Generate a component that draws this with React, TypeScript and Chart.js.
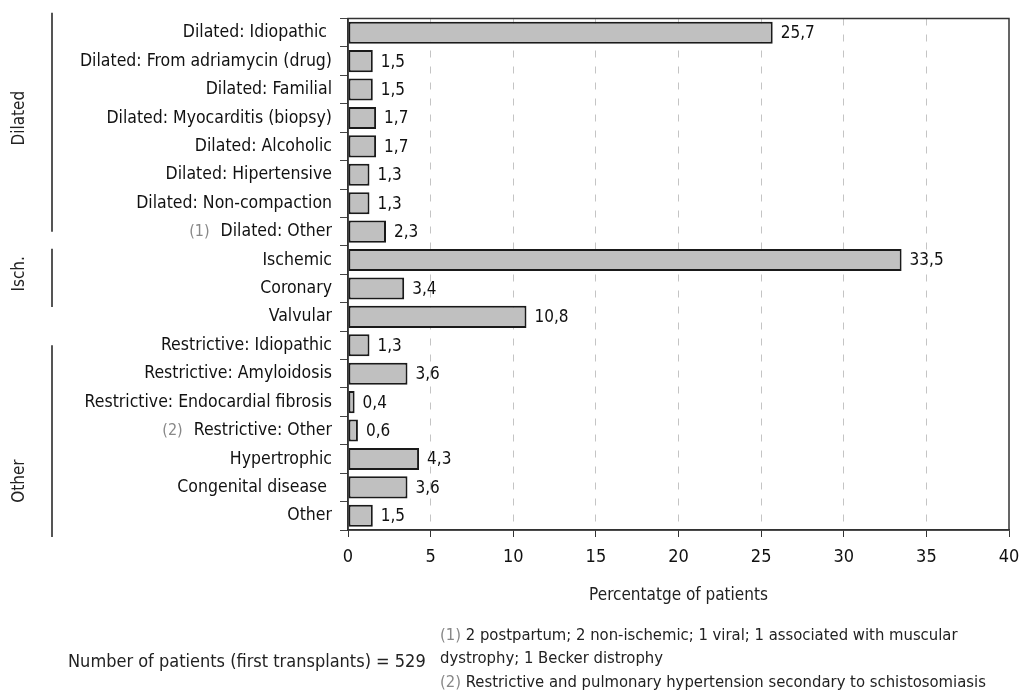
import { useEffect, useRef } from 'react'
import { Chart, registerables, Plugin } from 'chart.js'

Chart.register(...registerables)

const FONT = '"Liberation Sans Narrow", "Arial Narrow", "DejaVu Sans Condensed", sans-serif'

const categories = [
  'Dilated: Idiopathic ',
  'Dilated: From adriamycin (drug)',
  'Dilated: Familial',
  'Dilated: Myocarditis (biopsy)',
  'Dilated: Alcoholic',
  'Dilated: Hipertensive',
  'Dilated: Non-compaction',
  'Dilated: Other',
  'Ischemic',
  'Coronary',
  'Valvular',
  'Restrictive: Idiopathic',
  'Restrictive: Amyloidosis',
  'Restrictive: Endocardial fibrosis',
  'Restrictive: Other',
  'Hypertrophic',
  'Congenital disease ',
  'Other',
]

const percentages = [25.7, 1.5, 1.5, 1.7, 1.7, 1.3, 1.3, 2.3, 33.5, 3.4, 10.8, 1.3, 3.6, 0.4, 0.6, 4.3, 3.6, 1.5]

const xTicks = [0, 5, 10, 15, 20, 25, 30, 35, 40]

const groups = [
  { name: 'Dilated', first: 0, last: 7 },
  { name: 'Isch.', first: 8, last: 9 },
  { name: 'Other', first: 11, last: 17 },
]

const footnoteMarks = [
  { index: 7, mark: '(1)' },
  { index: 14, mark: '(2)' },
]

const footnotes = [
  '2 postpartum; 2 non-ischemic; 1 viral; 1 associated with muscular',
  'dystrophy; 1 Becker distrophy',
  'Restrictive and pulmonary hypertension secondary to schistosomiasis',
]

const patientsNote = 'Number of patients (first transplants) = 529'

const fmt = (v: number) => v.toFixed(1).replace('.', ',')

const decorations: Plugin<'bar'> = {
  id: 'decorations',
  afterDatasetsDraw(chart) {
    const { ctx, chartArea } = chart
    const meta = chart.getDatasetMeta(0)
    ctx.save()
    // value labels
    ctx.font = `17px ${FONT}`
    ctx.fillStyle = '#111'
    ctx.textAlign = 'left'
    ctx.textBaseline = 'middle'
    meta.data.forEach((el: any, i) => {
      ctx.fillText(fmt(percentages[i]), el.x + 8, el.y + 1)
    })
    // frame
    ctx.strokeStyle = '#333'
    ctx.lineWidth = 1.5
    ctx.strokeRect(chartArea.left, chartArea.top, chartArea.right - chartArea.left, chartArea.bottom - chartArea.top)
    ctx.restore()
  },
  afterDraw(chart) {
    const { ctx } = chart
    const y = chart.scales.y
    const step = y.getPixelForValue(1) - y.getPixelForValue(0)
    ctx.save()
    // group brackets
    groups.forEach((g, gi) => {
      let top = y.getPixelForValue(g.first) - step * 0.7
      let bottom = y.getPixelForValue(g.last)
      if (gi === 1) {
        top = y.getPixelForValue(g.first) - step * 0.4
        bottom = y.getPixelForValue(g.last) + step * 0.65
      }
      if (gi === 2) {
        top = y.getPixelForValue(g.first)
        bottom = y.getPixelForValue(g.last) + step * 0.75
      }
      ctx.strokeStyle = '#555'
      ctx.lineWidth = 2
      ctx.beginPath()
      ctx.moveTo(52, top)
      ctx.lineTo(52, bottom)
      ctx.stroke()
      const cy = gi === 2 ? bottom - 56 : (top + bottom) / 2 - 4
      ctx.save()
      ctx.translate(20, cy)
      ctx.rotate(-Math.PI / 2)
      ctx.font = `17px ${FONT}`
      ctx.fillStyle = '#222'
      ctx.textAlign = 'center'
      ctx.textBaseline = 'middle'
      ctx.fillText(g.name, 0, 0)
      ctx.restore()
    })
    // footnote markers next to labels
    ctx.textAlign = 'right'
    ctx.textBaseline = 'middle'
    footnoteMarks.forEach((f) => {
      ctx.font = `17.5px ${FONT}`
      const w = ctx.measureText(categories[f.index]).width
      ctx.font = `16px ${FONT}`
      ctx.fillStyle = '#888'
      ctx.fillText(f.mark, 330 - w - 9, y.getPixelForValue(f.index))
    })
    // bottom notes
    ctx.textAlign = 'left'
    ctx.font = `16.5px ${FONT}`
    ctx.fillStyle = '#888'
    ctx.fillText('(1)', 440, 636)
    ctx.fillText('(2)', 440, 683)
    const m = ctx.measureText('(1) ').width
    ctx.fillStyle = '#222'
    ctx.fillText(footnotes[0], 440 + m, 636)
    ctx.fillText(footnotes[1], 440, 659)
    ctx.fillText(footnotes[2], 440 + m, 683)
    ctx.font = `18px ${FONT}`
    ctx.fillText(patientsNote, 68, 662)
    ctx.restore()
  },
}

export default function App() {
  const canvasRef = useRef<HTMLCanvasElement>(null)
  const chartRef = useRef<Chart<'bar'>>()

  useEffect(() => {
    document.body.style.margin = '0'
    if (!canvasRef.current) return
    const ctx = canvasRef.current.getContext('2d')
    if (!ctx) return

    if (chartRef.current) chartRef.current.destroy()

    chartRef.current = new Chart(ctx, {
      type: 'bar',
      data: {
        labels: categories,
        datasets: [
          {
            data: percentages,
            backgroundColor: '#c0c0c0',
            borderColor: '#1a1a1a',
            borderWidth: 2,
            borderSkipped: false,
            barPercentage: 0.78,
            categoryPercentage: 1,
          },
        ],
      },
      options: {
        indexAxis: 'y',
        animation: false,
        responsive: false,
        devicePixelRatio: 1,
        layout: { padding: { top: 18, right: 13, bottom: 81, left: 0 } },
        plugins: {
          legend: { display: false },
          tooltip: { enabled: false },
        },
        scales: {
          x: {
            min: 0,
            max: 40,
            afterBuildTicks: (scale) => {
              scale.ticks = xTicks.map((v) => ({ value: v }))
            },
            afterFit: (scale: any) => {
              scale.height = 80
              scale.paddingRight = 0
              scale.paddingLeft = 0
            },
            border: { display: true, color: '#333', width: 1.5, dash: [7, 9] },
            grid: {
              color: (c) => (c.tick && (c.tick.value === 0 || c.tick.value === 40) ? 'rgba(0,0,0,0)' : '#c4c4c4'),
              tickColor: '#333',
              tickLength: 7,
              lineWidth: 1,
            },
            ticks: {
              color: '#111',
              font: { family: FONT, size: 18 },
              padding: 10,
            },
            title: {
              display: true,
              text: 'Percentatge of patients',
              color: '#222',
              font: { family: FONT, size: 17 },
              padding: { top: 4, bottom: 4 },
            },
          },
          y: {
            afterFit: (scale) => {
              scale.width = 348
            },
            border: { display: true, color: '#333', width: 1.5 },
            grid: {
              drawOnChartArea: false,
              drawTicks: true,
              tickLength: 8,
              tickColor: '#444',
            },
            ticks: {
              color: '#111',
              font: { family: FONT, size: 17.5 },
              padding: 8,
              autoSkip: false,
            },
          },
        },
      },
      plugins: [decorations],
    })

    return () => {
      if (chartRef.current) {
        chartRef.current.destroy()
        chartRef.current = undefined
      }
    }
  }, [])

  return (
    <div style={{ width: 1022, height: 691, position: 'relative' }}>
      <canvas ref={canvasRef} width={1022} height={691} />
    </div>
  )
}
